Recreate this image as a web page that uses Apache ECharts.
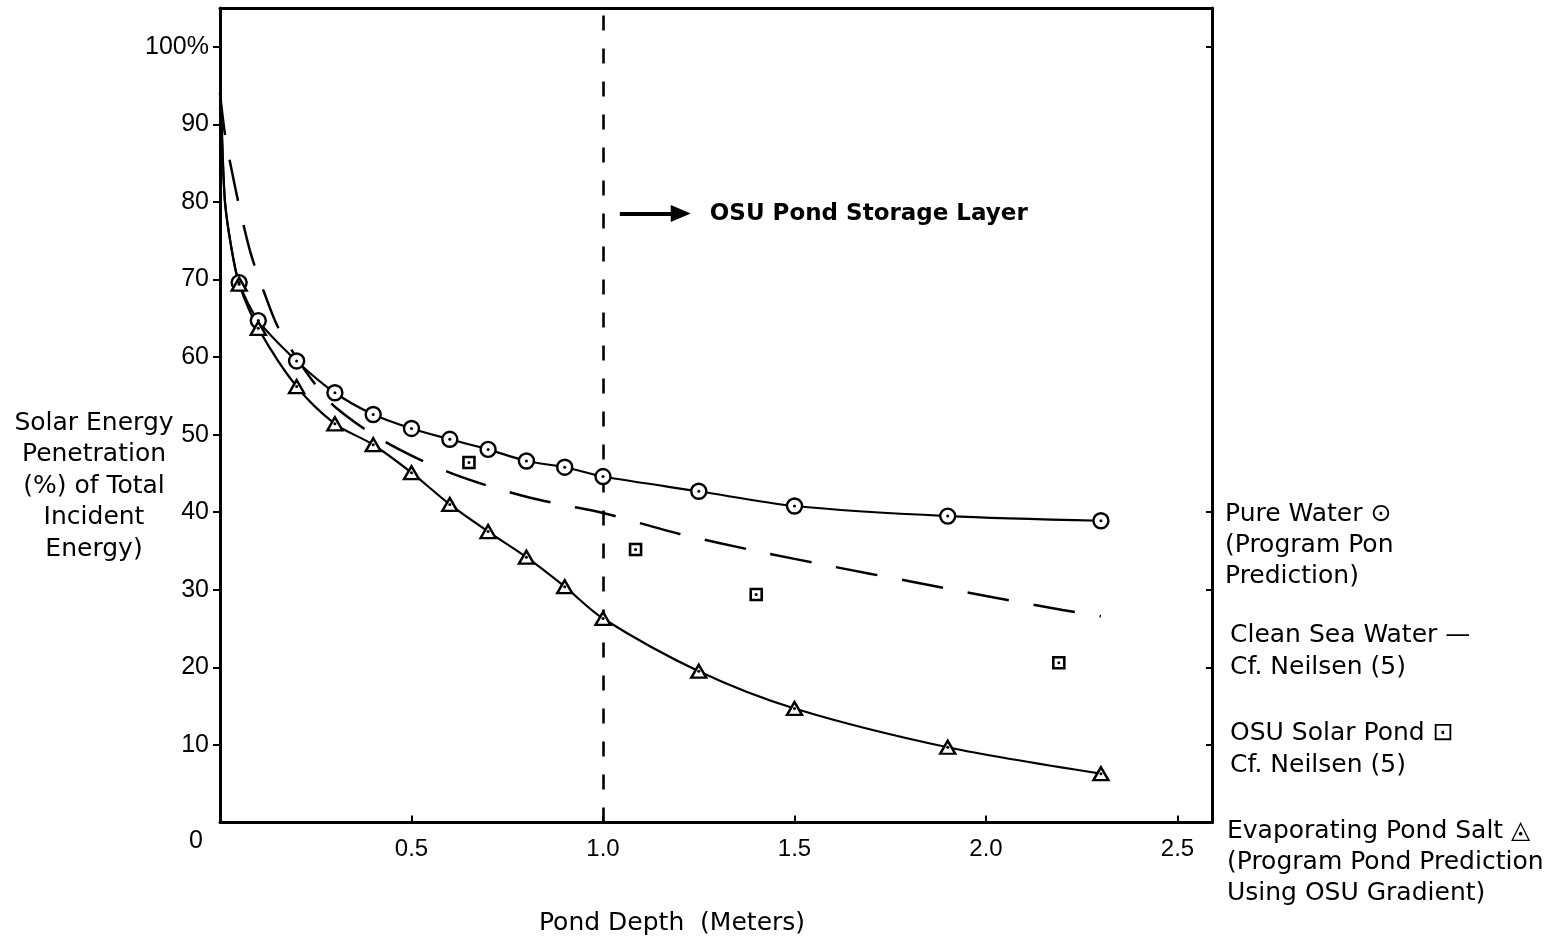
<!DOCTYPE html>
<html>
<head>
<meta charset="utf-8">
<script src="https://cdn.jsdelivr.net/npm/echarts@6/dist/echarts.min.js"></script>
<style>
html,body{margin:0;padding:0;background:#fff;}
#chart{width:1563px;height:940px;}
</style>
</head>
<body>
<div id="chart"></div>
<script>
// ---- data ----
const xTickValues = [0.5, 1.0, 1.5, 2.0, 2.5];
const xTickLabels = ['0.5', '1.0', '1.5', '2.0', '2.5'];
const yTickValues = [10, 20, 30, 40, 50, 60, 70, 80, 90, 100];
const yTickLabels = ['10', '20', '30', '40', '50', '60', '70', '80', '90', '100%'];
const rightTickValues = [10, 20, 30, 40, 100];

// shared start of both solid curves (no markers)
const solidStartX = [0, 0.004, 0.013, 0.03];
const solidStartY = [94, 90, 80, 74];

// marker depths (m) for pure water & evaporating pond salt
const depthX = [0.05, 0.1, 0.2, 0.3, 0.4, 0.5, 0.6, 0.7, 0.8, 0.9, 1.0, 1.25, 1.5, 1.9, 2.3];
const pureWaterY = [69.6, 64.7, 59.5, 55.4, 52.6, 50.8, 49.4, 48.1, 46.6, 45.8, 44.6, 42.7, 40.8, 39.5, 38.9];
const pondSaltY  = [69.4, 63.7, 56.2, 51.4, 48.7, 45.1, 41.0, 37.5, 34.2, 30.4, 26.3, 19.5, 14.7, 9.7, 6.3];

// clean sea water (dashed curve)
const seaX = [0, 0.013, 0.03, 0.05, 0.08, 0.117, 0.15, 0.2, 0.25, 0.3, 0.4, 0.5, 0.6, 0.7, 0.8, 0.9, 1.0, 1.2, 1.4, 1.6, 1.8, 2.0, 2.2, 2.3];
const seaY = [94, 88.7, 84.2, 79.5, 73.4, 68.1, 64.0, 59.9, 56.4, 53.6, 50.0, 47.3, 45.1, 43.4, 42.0, 40.9, 39.9, 37.2, 35.0, 33.0, 31.1, 29.2, 27.4, 26.6];

// OSU solar pond (squares)
const osuX = [0.65, 1.085, 1.40, 2.19];
const osuY = [46.4, 35.2, 29.4, 20.6];

// storage layer marker and arrow annotation
const storageDepth = 1.0;
const arrowFrom = [1.044, 78.5];
const arrowTo = [1.203, 78.5];
const arrowText = 'OSU Pond Storage Layer';

// ---- build ----
const zip = (xs, ys) => xs.map((x, i) => [x, ys[i]]);
const pureCurve = zip(solidStartX.concat(depthX), solidStartY.concat(pureWaterY));
const saltCurve = zip(solidStartX.concat(depthX), solidStartY.concat(pondSaltY));
const seaCurve = zip(seaX, seaY);
const purePts = zip(depthX, pureWaterY);
const saltPts = zip(depthX, pondSaltY);
const osuPts = zip(osuX, osuY);

const FONT = "'Liberation Sans', Arial, Helvetica, sans-serif";
const WFONT = "'DejaVu Sans', 'Liberation Sans', sans-serif";

const chart = echarts.init(document.getElementById('chart'), null, {renderer: 'canvas'});

const near = (a, b) => Math.abs(a - b) < 1e-6;
const lookup = (vals, labels) => v => {
  for (let i = 0; i < vals.length; i++) if (near(v, vals[i])) return labels[i];
  return '';
};

const textStyleBlock = (text, x, y, size, lh, align) => ({
  type: 'text', x: x, y: y, silent: true,
  style: {
    text: text, fontFamily: WFONT, fontSize: size, lineHeight: lh, fill: '#000',
    textAlign: align, textVerticalAlign: 'middle', align: align, verticalAlign: 'middle'
  }
});

const option = {
  animation: false,
  backgroundColor: '#fff',
  textStyle: {fontFamily: FONT, color: '#000'},
  grid: {left: 220, top: 8, right: 351, bottom: 117.5, containLabel: false, outerBoundsMode: 'none'},
  xAxis: [
    {
      type: 'value', position: 'bottom', min: 0, max: 2.59, interval: 0.5,
      axisLine: {onZero: false, lineStyle: {color: '#000', width: 3}},
      axisTick: {inside: true, length: 7, customValues: xTickValues, lineStyle: {color: '#000', width: 2}},
      axisLabel: {
        margin: 15, fontSize: 24, color: '#000', fontFamily: FONT,
        customValues: xTickValues, formatter: lookup(xTickValues, xTickLabels)
      },
      splitLine: {show: false}
    },
    {
      type: 'value', position: 'top', min: 0, max: 2.59, interval: 0.5,
      axisLine: {onZero: false, lineStyle: {color: '#000', width: 3}},
      axisTick: {show: false}, axisLabel: {show: false}, splitLine: {show: false}
    }
  ],
  yAxis: [
    {
      type: 'value', position: 'left', min: 0, max: 105, interval: 10,
      axisLine: {onZero: false, lineStyle: {color: '#000', width: 3}},
      axisTick: {inside: false, length: 7, customValues: yTickValues, lineStyle: {color: '#000', width: 2}},
      axisLabel: {
        margin: 11, fontSize: 25, color: '#000', fontFamily: FONT,
        customValues: yTickValues, formatter: lookup(yTickValues, yTickLabels)
      },
      splitLine: {show: false}
    },
    {
      type: 'value', position: 'right', min: 0, max: 105, interval: 10,
      axisLine: {onZero: false, lineStyle: {color: '#000', width: 3}},
      axisTick: {inside: true, length: 6, customValues: rightTickValues, lineStyle: {color: '#000', width: 2}},
      axisLabel: {show: false}, splitLine: {show: false}
    }
  ],
  series: [
    {
      name: 'Pure Water curve', type: 'line', data: pureCurve, showSymbol: false, symbol: 'none',
      smooth: 0.3, z: 2,
      lineStyle: {color: '#000', width: 2.2},
      markLine: {
        silent: true, animation: false, symbol: ['none', 'none'],
        label: {show: false},
        lineStyle: {color: '#000', width: 2.6, type: [15, 18]},
        data: [{xAxis: storageDepth}]
      }
    },
    {
      name: 'Evaporating Pond Salt curve', type: 'line', data: saltCurve, showSymbol: false, symbol: 'none',
      smooth: 0.3, z: 2,
      lineStyle: {color: '#000', width: 2.2},
      markLine: {
        silent: true, animation: false, symbol: ['none', 'triangle'], symbolSize: [17, 20],
        lineStyle: {color: '#000', width: 4, type: 'solid'},
        label: {
          show: true, position: 'end', distance: 29, formatter: arrowText,
          fontFamily: WFONT, fontWeight: 'bold', fontSize: 23, color: '#000'
        },
        data: [[{coord: arrowFrom}, {coord: arrowTo}]]
      }
    },
    {
      name: 'Clean Sea Water', type: 'line', data: seaCurve, showSymbol: false, symbol: 'none',
      smooth: 0.3, z: 2,
      lineStyle: {color: '#000', width: 2.5, type: [42, 25]}
    },
    {
      name: 'Pure Water', type: 'scatter', data: purePts, symbol: 'circle', symbolSize: 15, z: 5,
      itemStyle: {color: '#fff', borderColor: '#000', borderWidth: 2.4, opacity: 1}
    },
    {
      name: 'Evaporating Pond Salt', type: 'scatter', data: saltPts, symbol: 'triangle', symbolSize: [15, 13], z: 5,
      itemStyle: {color: '#fff', borderColor: '#000', borderWidth: 2.4, opacity: 1}
    },
    {
      name: 'OSU Solar Pond', type: 'scatter', data: osuPts, symbol: 'rect', symbolSize: 11, z: 5,
      itemStyle: {color: '#fff', borderColor: '#000', borderWidth: 2.6, opacity: 1}
    },
    {
      name: 'marker dots', type: 'scatter', data: purePts.concat(saltPts, osuPts), symbol: 'circle', symbolSize: 3, z: 6,
      itemStyle: {color: '#000', opacity: 1}
    }
  ],
  graphic: [
    textStyleBlock('Solar Energy\nPenetration\n(%) of Total\nIncident\nEnergy)', 94, 486, 25, 31.5, 'center'),
    {
      type: 'text', x: 196, y: 841, silent: true,
      style: {text: '0', fontFamily: FONT, fontSize: 25, fill: '#000',
        textAlign: 'center', textVerticalAlign: 'middle', align: 'center', verticalAlign: 'middle'}
    },
    textStyleBlock('Pond Depth  (Meters)', 672, 923, 25, 30, 'center'),
    textStyleBlock('Pure Water \u2299\n(Program Pon\nPrediction)', 1225, 545, 25, 31, 'left'),
    textStyleBlock('Clean Sea Water \u2014\nCf. Neilsen (5)', 1230, 651, 25, 32, 'left'),
    textStyleBlock('OSU Solar Pond \u22A1\nCf. Neilsen (5)', 1230, 749, 25, 32, 'left'),
    textStyleBlock('Evaporating Pond Salt \u25EC\n(Program Pond Prediction\nUsing OSU Gradient)', 1227, 862, 25, 31, 'left')
  ]
};
chart.setOption(option);
</script>
</body>
</html>
